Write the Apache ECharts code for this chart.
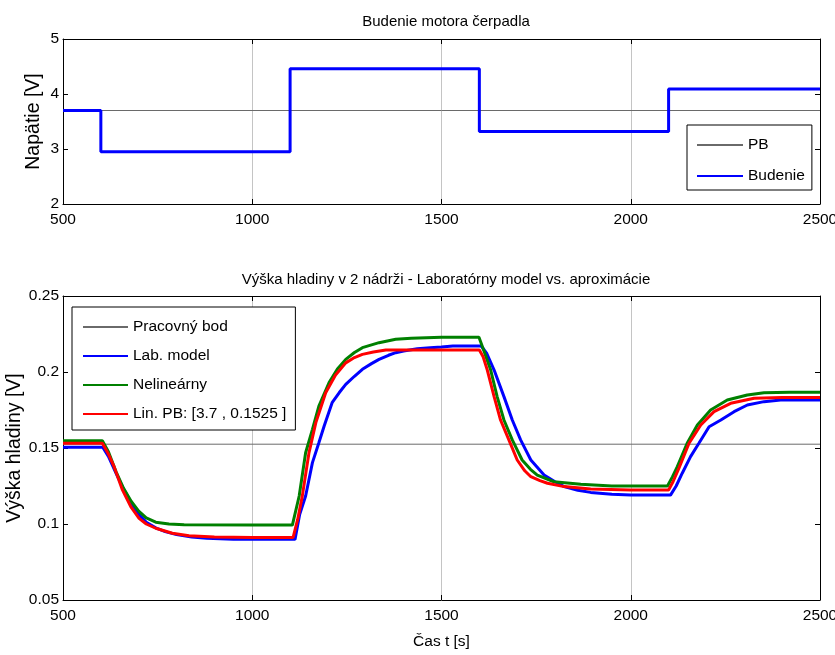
<!DOCTYPE html>
<html>
<head>
<meta charset="utf-8">
<script src="https://cdn.jsdelivr.net/npm/echarts@6/dist/echarts.min.js"></script>
<style>
html, body { margin: 0; padding: 0; background: #fff; }
#main { width: 835px; height: 655px; }
</style>
</head>
<body>
<div id="main"></div>
<script>
// budenie - skokovy vstup
var budT = [500, 600, 1100, 1600, 2100, 2500];
var budV = [3.7, 2.95, 4.46, 3.32, 4.09, 4.09];
// pracovny bod
var pbU = 3.7;
var pbH = 0.1525;

// laboratorny model
var labT = [500, 605, 620, 640, 660, 680, 700, 720, 745, 770, 800, 840, 880, 950, 1113,
	1125, 1141, 1159, 1176, 1190, 1211, 1230, 1247, 1270, 1291, 1315, 1335, 1360, 1379, 1400, 1436, 1470, 1500, 1530,
	1605, 1620, 1639, 1665, 1687, 1709, 1736, 1771, 1800, 1824, 1860, 1894, 1950, 2000,
	2105, 2120, 2136, 2158, 2180, 2207, 2238, 2273, 2308, 2352, 2396, 2500];
var labV = [0.1505, 0.1505, 0.1445, 0.1335, 0.1230, 0.1140, 0.1065, 0.1012, 0.0975, 0.0950, 0.0930, 0.0915, 0.0906, 0.0899, 0.0899,
	0.1060, 0.1184, 0.1404, 0.1535, 0.1645, 0.1798, 0.1865, 0.1919, 0.1972, 0.2018, 0.2055, 0.2083, 0.2110, 0.2127, 0.2138, 0.2153, 0.2160, 0.2165, 0.2171,
	0.2171, 0.2120, 0.2013, 0.1838, 0.1684, 0.1553, 0.1421, 0.1322, 0.1278, 0.1246, 0.1222, 0.1208, 0.1195, 0.1190,
	0.1190, 0.1250, 0.1334, 0.1443, 0.1531, 0.1640, 0.1684, 0.1739, 0.1783, 0.1805, 0.1816, 0.1816];

// nelinearny model
var nelT = [500, 604, 620, 640, 660, 680, 700, 720, 745, 780, 820, 1000, 1106,
	1124, 1141, 1159, 1176, 1203, 1225, 1247, 1270, 1291, 1335, 1379, 1420, 1500, 1599,
	1612, 1630, 1647, 1665, 1687, 1713, 1735, 1753, 1797, 1868, 1950, 2097,
	2110, 2123, 2149, 2176, 2211, 2255, 2308, 2352, 2420, 2500];
var nelV = [0.1548, 0.1548, 0.1475, 0.1345, 0.1235, 0.1150, 0.1085, 0.1040, 0.1012, 0.1000, 0.0995, 0.0993, 0.0993,
	0.1184, 0.1469, 0.1623, 0.1776, 0.1930, 0.2020, 0.2083, 0.2128, 0.2160, 0.2193, 0.2215, 0.2222, 0.2228, 0.2228,
	0.2140, 0.2013, 0.1838, 0.1684, 0.1553, 0.1421, 0.1360, 0.1322, 0.1278, 0.1261, 0.1250, 0.1250,
	0.1310, 0.1377, 0.1531, 0.1651, 0.1750, 0.1816, 0.1849, 0.1864, 0.1866, 0.1866];

// linearizovany v PB
var linT = [500, 604, 620, 635, 657, 679, 701, 720, 745, 789, 833, 900, 1000, 1108,
	1120, 1132, 1150, 1168, 1194, 1220, 1247, 1270, 1291, 1320, 1353, 1600,
	1610, 1621, 1639, 1656, 1678, 1700, 1720, 1736, 1760, 1780, 1824, 1894, 2000, 2100,
	2112, 2127, 2154, 2185, 2220, 2264, 2326, 2400, 2500];
var linV = [0.1531, 0.1531, 0.1460, 0.1377, 0.1224, 0.1114, 0.1037, 0.1000, 0.0972, 0.0939, 0.0923, 0.0915, 0.0912, 0.0912,
	0.1030, 0.1180, 0.1470, 0.1667, 0.1864, 0.1980, 0.2060, 0.2095, 0.2116, 0.2132, 0.2145, 0.2145,
	0.2100, 0.2013, 0.1838, 0.1684, 0.1553, 0.1421, 0.1350, 0.1311, 0.1285, 0.1268, 0.1246, 0.1230, 0.1224, 0.1224,
	0.1280, 0.1366, 0.1531, 0.1651, 0.1739, 0.1794, 0.1827, 0.1833, 0.1833];

var font = "'Liberation Sans', Arial, sans-serif";

function pairs(t, v) {
	var out = [];
	for (var i = 0; i < t.length; i++) {
		out.push([t[i], v[i]]);
	}
	return out;
}

function plain(v) {
	return String(v);
}

function xAx(grid, pos, main) {
	return {
		type : 'value', gridIndex : grid, position : pos,
		min : 500, max : 2500, interval : 500,
		axisLine : { show : true, onZero : false, lineStyle : { color : '#000', width : 1 } },
		axisTick : { show : true, inside : true, length : 5, lineStyle : { color : '#000' } },
		axisLabel : { show : main, color : '#000', fontFamily : font, fontSize : 15.5, margin : 8, formatter : plain },
		splitLine : { show : main, lineStyle : { color : '#c4c4c4', width : 1 } }
	};
}

function yAx(grid, pos, main, min, max, step) {
	return {
		type : 'value', gridIndex : grid, position : pos,
		min : min, max : max, interval : step,
		axisLine : { show : true, onZero : false, lineStyle : { color : '#000', width : 1 } },
		axisTick : { show : true, inside : true, length : 5, lineStyle : { color : '#000' } },
		axisLabel : { show : main, color : '#000', fontFamily : font, fontSize : 15.5, margin : 4, formatter : plain },
		splitLine : { show : false }
	};
}

var xAxes = [ xAx(0, 'bottom', true), xAx(0, 'top', false), xAx(1, 'bottom', true), xAx(1, 'top', false) ];
xAxes[2].name = 'Čas t [s]';
xAxes[2].nameLocation = 'middle';
xAxes[2].nameGap = 34;
xAxes[2].nameMoveOverlap = false;
xAxes[2].nameTextStyle = { color : '#000', fontFamily : font, fontSize : 15.5 };

var yAxes = [ yAx(0, 'left', true, 2, 5, 1), yAx(0, 'right', false, 2, 5, 1),
		yAx(1, 'left', true, 0.05, 0.25, 0.05), yAx(1, 'right', false, 0.05, 0.25, 0.05) ];
yAxes[0].name = 'Napätie [V]';
yAxes[0].nameLocation = 'middle';
yAxes[0].nameGap = 19;
yAxes[0].nameMoveOverlap = false;
yAxes[0].nameTextStyle = { color : '#000', fontFamily : font, fontSize : 19.5 };
yAxes[2].name = 'Výška hladiny [V]';
yAxes[2].nameLocation = 'middle';
yAxes[2].nameGap = 38;
yAxes[2].nameMoveOverlap = false;
yAxes[2].nameTextStyle = { color : '#000', fontFamily : font, fontSize : 19.5 };

function line(name, xi, yi, data, color, width, z) {
	return {
		name : name, type : 'line', xAxisIndex : xi, yAxisIndex : yi,
		data : data, symbol : 'none', z : z,
		lineStyle : { color : color, width : width },
		itemStyle : { color : color }
	};
}

var linName = 'Lin. PB: [3.7 , 0.1525 ]';

var budSeries = line('Budenie', 0, 0, pairs(budT, budV), '#0000ff', 3, 3);
budSeries.step = 'end';

var series = [
	line('PB', 0, 0, [ [ 500, pbU ], [ 2500, pbU ] ], '#6a6a6a', 1, 2),
	budSeries,
	line('Pracovný bod', 2, 2, [ [ 500, pbH ], [ 2500, pbH ] ], '#6a6a6a', 1, 2),
	line('Lab. model', 2, 2, pairs(labT, labV), '#0000ff', 3, 3),
	line('Nelineárny', 2, 2, pairs(nelT, nelV), '#008000', 3, 4),
	line(linName, 2, 2, pairs(linT, linV), '#ff0000', 3, 5)
];

var legendText = { color : '#000', fontFamily : font, fontSize : 15.5, lineHeight : 18 };

var option = {
	animation : false,
	backgroundColor : '#fff',
	title : [ {
		text : 'Budenie motora čerpadla',
		left : 441, top : 9, textAlign : 'center',
		textStyle : { color : '#000', fontFamily : font, fontSize : 15, fontWeight : 'normal' }
	}, {
		text : 'Výška hladiny v 2 nádrži - Laboratórny model vs. aproximácie',
		left : 441, top : 267, textAlign : 'center',
		textStyle : { color : '#000', fontFamily : font, fontSize : 15, fontWeight : 'normal' }
	} ],
	grid : [
		{ left : 63, right : 15, top : 39, height : 165, outerBoundsMode : 'none', containLabel : false },
		{ left : 63, right : 15, top : 296, height : 304, outerBoundsMode : 'none', containLabel : false }
	],
	legend : [ {
		data : [ 'PB', 'Budenie' ],
		orient : 'vertical', left : 687, top : 125,
		selectedMode : false,
		backgroundColor : '#fff', borderColor : '#000', borderWidth : 1, borderRadius : 0,
		padding : [ 11, 7, 5, 9 ],
		itemWidth : 46, itemHeight : 14, itemGap : 13,
		itemStyle : { opacity : 0 },
		textStyle : legendText
	}, {
		data : [ 'Pracovný bod', 'Lab. model', 'Nelineárny', linName ],
		orient : 'vertical', left : 72, top : 307,
		selectedMode : false,
		backgroundColor : '#fff', borderColor : '#000', borderWidth : 1, borderRadius : 0,
		padding : [ 11, 9, 7, 10 ],
		itemWidth : 45, itemHeight : 14, itemGap : 11,
		itemStyle : { opacity : 0 },
		textStyle : legendText
	} ],
	xAxis : xAxes,
	yAxis : yAxes,
	series : series
};

var myChart = echarts.init(document.getElementById('main'));
myChart.setOption(option);
</script>
</body>
</html>
